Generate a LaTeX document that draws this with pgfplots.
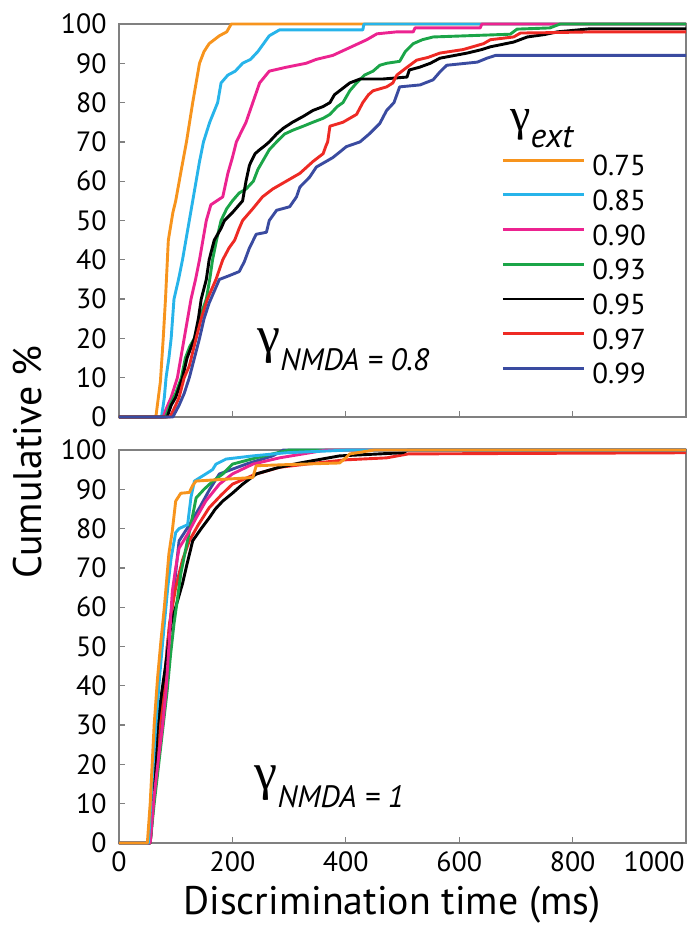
\documentclass[border=0pt]{standalone}
\usepackage{fontspec}
\setmainfont{PT Sans}
\newfontfamily\gk{Liberation Serif}
\usepackage{pgfplots}
\pgfplotsset{compat=1.18}
\definecolor{cOr}{HTML}{F7941D}
\definecolor{cCy}{HTML}{27B4EA}
\definecolor{cMa}{HTML}{EC2390}
\definecolor{cGr}{HTML}{1BA548}
\definecolor{cBk}{HTML}{000000}
\definecolor{cRd}{HTML}{EE2A24}
\definecolor{cBl}{HTML}{3A4BA0}
\pgfplotsset{
 panel/.style={
   scale only axis, width=567bp, height=393bp,
   xmin=0,xmax=1000,ymin=0,ymax=100,
   ytick={0,10,...,100},
   xtick={0,200,...,800},
   tick align=inside, xtick pos=lower, ytick pos=lower,
   major tick length=6bp,
   axis line style={black!50, line width=1.3bp},
   tick style={black!50, line width=1.3bp},
   ticklabel style={font=\fontsize{28}{28}\selectfont},
   yticklabel style={xshift=-9bp},
   xticklabel style={yshift=-5bp},
   /pgf/number format/assume math mode=true,
   clip=false,
   every axis plot/.append style={line width=2.9bp, line join=round},
 }
}
\begin{document}
\begin{tikzpicture}
\useasboundingbox (-119bp,-509bp) rectangle (576bp,417bp);
% ---------------- top panel ----------------
\begin{axis}[panel, at={(0,0)}, anchor=south west, xticklabels={},
  legend style={at={(0.669,0.668)}, anchor=north west, draw=none, fill=none,
     font=\fontsize{29}{29}\selectfont, row sep=9.7bp,
     nodes={inner sep=0pt, text height=19bp, text depth=6bp},
     column sep=7bp},
  legend cell align=left,
  legend image code/.code={\draw[#1, line width=2.9bp] (0bp,9bp) -- (81bp,9bp);}]
\addplot[cOr] coordinates {(0,0)(65,0)(73,9)(78,20)(82,30)(87,45)(95,52)(100,55)(110,63)(119,70)(130,80)(142,90)(150,93)(159,95)(177,97)(190,98)(198,100)(1000,100)};
\addlegendentry{0.75}
\addplot[cCy] coordinates {(0,0)(75,0)(80,5)(83,10)(88,15)(92,20)(97,30)(105,35)(112,40)(118,45)(124,50)(130,55)(136,60)(142,65)(149,70)(160,75)(174,80)(180,85)(192,87)(205,88)(218,90)(232,91)(245,93)(255,95)(265,97)(283,98.5)(430,98.5)(432,100)(1000,100)};
\addlegendentry{0.85}
\addplot[cMa] coordinates {(0,0)(78,0)(83,2)(92,5)(103,10)(115,20)(127,30)(135,35)(142,40)(148,45)(154,50)(162,54)(183,56)(192,62)(200,66)(207,70)(224,75)(236,80)(248,85)(265,88)(295,89)(330,90)(348,91)(377,92)(407,94)(437,96)(455,97.5)(490,98)(519,98)(522,99)(637,99)(640,100)(1000,100)};
\addlegendentry{0.90}
\addplot[cGr] coordinates {(0,0)(82,0)(90,3)(100,6)(110,10)(117,15)(125,18)(133,20)(142,25)(154,30)(160,35)(165,40)(172,45)(180,50)(190,53)(200,55)(212,57)(224,58)(237,60)(245,63)(253,65)(265,68)(278,70)(292,72)(307,73)(325,74)(342,75)(360,76)(372,77)(385,79)(395,80)(407,83)(419,85)(433,87)(448,88)(460,89.5)(472,90)(495,90.5)(505,93)(519,95)(535,96)(554,96.7)(690,97.4)(702,98.7)(760,99)(778,100)(1000,100)};
\addlegendentry{0.93}
\addplot[cBk] coordinates {(0,0)(85,0)(92,3)(100,5)(112,10)(120,15)(133,20)(140,25)(145,30)(154,35)(159,40)(168,45)(180,48)(186,50)(200,52)(212,54)(218,55)(224,60)(230,64)(233,65)(240,67)(248,68)(257,69)(265,70)(278,72)(290,73.5)(306,75)(325,76.5)(342,78)(360,79)(372,80)(380,82)(389,83)(398,84)(407,85)(425,86)(465,86)(508,86.5)(512,88.3)(530,89)(549,90)(566,91.3)(614,92.6)(640,93.5)(655,94.2)(696,95.4)(720,96.7)(750,97.3)(773,98)(832,98.8)(1000,98.8)};
\addlegendentry{0.95}
\addplot[cRd] coordinates {(0,0)(90,0)(100,3)(106,5)(115,10)(124,13)(136,20)(145,25)(156,30)(171,35)(183,40)(194,43)(204,45)(212,48)(218,50)(236,53)(253,56)(271,58)(295,60)(319,62)(342,65)(360,67)(365,69)(368,70)(372,74)(395,75)(419,77)(430,80)(440,82)(448,83)(472,84)(483,85)(490,87)(508,89)(525,90.8)(545,91.5)(566,92.6)(607,93.5)(643,95)(655,96)(696,96.7)(708,97.7)(760,97.8)(837,98)(1000,98)};
\addlegendentry{0.97}
\addplot[cBl] coordinates {(0,0)(95,0)(106,3)(115,6)(124,10)(133,15)(142,20)(150,25)(159,29)(168,32)(177,35)(195,36)(212,37)(221,39.5)(230,43)(242,46.5)(260,47)(265,50)(278,52.6)(301,53.5)(313,56)(319,58.5)(336,61)(348,63.6)(365,65)(377,66)(390,67.5)(401,68.8)(425,70)(442,72.1)(460,74.7)(472,78)(485,80)(495,84)(531,84.5)(554,85.8)(566,87.8)(578,89.5)(632,90.3)(649,91.3)(664,92)(1000,92)};
\addlegendentry{0.99}
\node[anchor=base west, inner sep=0pt] at (axis cs:690,73) {{\gk\fontsize{46}{46}\selectfont γ}\raisebox{-17bp}{\fontsize{34}{34}\selectfont\itshape ext}};
\node[anchor=base west, inner sep=0pt] at (axis cs:244,16.5) {{\gk\fontsize{52}{52}\selectfont γ}\raisebox{-18bp}{\fontsize{31}{31}\selectfont\itshape NMDA = 0.8}};
\end{axis}
% ---------------- bottom panel ----------------
\begin{axis}[panel, at={(0,-426bp)}, anchor=south west,
  extra x ticks={1000}, extra x tick labels={1000},
  extra x tick style={xticklabel style={anchor=north east, xshift=2bp}}]
\addplot[cBl] coordinates {(0,0)(55,0)(62,12)(70,25)(78,35)(85,50)(95,62)(106,76.9)(120,80)(142,85.3)(160,90)(177,93.9)(224,96.4)(271,98.5)(290,100)(1000,100)};
\addplot[cRd] coordinates {(0,0)(55,0)(62,12)(70,28)(78,38)(89,55.8)(100,65)(112,72)(124,76.9)(140,81)(159,85.3)(180,88.5)(200,91.3)(240,93.8)(283,95.6)(348,96.7)(400,97.5)(472,98)(510,99)(1000,99.3)};
\addplot[cBk] coordinates {(0,0)(55,0)(62,15)(68,30)(75,38)(82,45)(92,55.8)(100,60)(112,66)(120,71)(130,76.9)(145,80)(159,82.7)(170,85)(183,87)(200,89)(218,91.3)(242,93.9)(280,95.5)(319,96.7)(389,98.5)(500,99.3)(510,100)(1000,100)};
\addplot[cGr] coordinates {(0,0)(55,0)(62,10)(70,20)(78,30)(85,38.8)(91,48)(97,55.8)(103,62)(109,68.5)(118,75)(127,81.2)(136,87.8)(150,90)(165,92)(183,93.9)(200,96.4)(242,98)(300,100)(1000,100)};
\addplot[cMa] coordinates {(0,0)(55,0)(62,12)(70,22)(77,30)(83,38.8)(88,50)(94,64)(100,70)(106,75)(121,78.6)(136,82.7)(153,87)(177,91.3)(200,93.9)(236,96.4)(283,98)(366,100)(1000,100)};
\addplot[cCy] coordinates {(0,0)(52,0)(58,15)(65,30)(72,43)(80,55.8)(86,65)(92,72.6)(100,79)(106,80)(121,81)(127,88)(133,92.1)(153,93.9)(165,95)(171,96.4)(189,97.7)(236,98.5)(295,99.3)(407,100)(1000,100)};
\addplot[cOr] coordinates {(0,0)(50,0)(55,10)(62,30)(68,42)(74,51.5)(80,60)(88,73.6)(94,79.4)(100,87)(109,89)(124,89.2)(130,91)(136,92.1)(180,92.5)(236,93)(242,96)(300,96.3)(389,96.7)(400,98)(407,99)(450,100)(1000,100)};
\node[anchor=base west, inner sep=0pt] at (axis cs:239,13.7) {{\gk\fontsize{52}{52}\selectfont γ}\raisebox{-18bp}{\fontsize{31}{31}\selectfont\itshape NMDA = 1}};
\end{axis}
\node[rotate=90, font=\fontsize{40}{40}\selectfont, inner sep=0pt] at (-91bp,-45bp) {Cumulative \%};
\node[anchor=base, font=\fontsize{40}{40}\selectfont, inner sep=0pt] at (273bp,-497bp) {Discrimination time (ms)};
\end{tikzpicture}
\end{document}
